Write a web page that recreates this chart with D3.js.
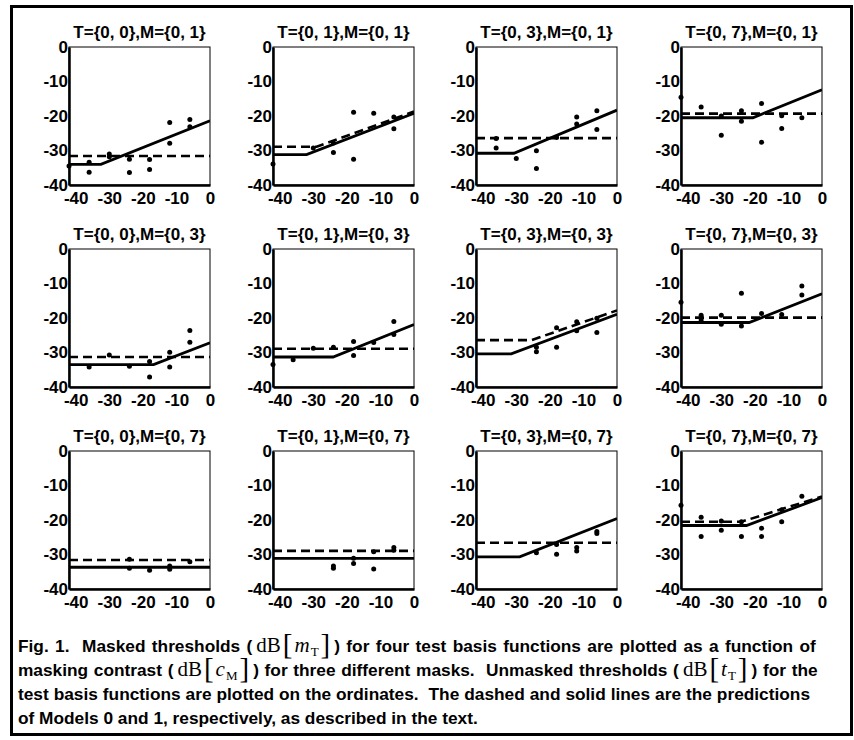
<!DOCTYPE html>
<html><head><meta charset="utf-8">
<script src="https://cdn.jsdelivr.net/npm/d3@7"></script>
<style>
body{margin:0;background:#fff}
text{font-family:"Liberation Sans",Arial,sans-serif;fill:#000}
.title{font-size:17px;font-weight:bold}
.tick text{font-size:17px;font-weight:bold;font-family:"Liberation Sans",Arial,sans-serif}
.cap{font-size:17.3px;font-weight:bold;white-space:pre}
.serif{font-family:"Liberation Serif","DejaVu Serif",serif;font-weight:normal}
</style>
</head><body><svg id="c" width="854" height="740"></svg>
<script>
const titles = [
  "T={0, 0},M={0, 1}","T={0, 1},M={0, 1}","T={0, 3},M={0, 1}","T={0, 7},M={0, 1}",
  "T={0, 0},M={0, 3}","T={0, 1},M={0, 3}","T={0, 3},M={0, 3}","T={0, 7},M={0, 3}",
  "T={0, 0},M={0, 7}","T={0, 1},M={0, 7}","T={0, 3},M={0, 7}","T={0, 7},M={0, 7}"
];
const xTicks = [-40,-30,-20,-10,0];
const yTicks = [0,-10,-20,-30,-40];
const xDomain = [-42,0];
const yDomain = [-40,0];

// observed thresholds: [masking contrast dB, masked threshold dB]
const obsT00M01 = [[-42,-34.5],[-36,-33.4],[-36,-36.3],[-30,-31.0],[-30,-31.8],[-24,-32.5],[-24,-36.4],[-18,-32.6],[-18,-35.5],[-12,-21.9],[-12,-27.9],[-6,-21.0],[-6,-23.1]];
const obsT01M01 = [[-42,-33.9],[-30,-29.3],[-24,-30.6],[-24,-27.8],[-18,-18.9],[-18,-32.5],[-12,-19.2],[-6,-20.3],[-6,-23.7]];
const obsT03M01 = [[-36,-26.5],[-36,-29.3],[-30,-32.3],[-24,-30.1],[-24,-35.2],[-18,-26.2],[-12,-20.3],[-12,-22.3],[-6,-18.5],[-6,-23.9]];
const obsT07M01 = [[-42,-14.6],[-36,-17.4],[-30,-25.6],[-30,-20.0],[-24,-18.5],[-24,-21.5],[-18,-16.4],[-18,-27.6],[-12,-19.9],[-12,-23.6],[-6,-20.5]];
const obsT00M03 = [[-36,-34.2],[-30,-30.7],[-24,-34.0],[-18,-32.6],[-18,-37.1],[-12,-29.9],[-12,-34.2],[-6,-23.6],[-6,-27.0]];
const obsT01M03 = [[-42,-33.5],[-36,-32.1],[-30,-28.8],[-24,-28.5],[-18,-26.8],[-18,-30.9],[-12,-27.1],[-6,-21.0],[-6,-24.8]];
const obsT03M03 = [[-24,-28.5],[-24,-29.8],[-18,-28.5],[-18,-22.8],[-12,-21.1],[-12,-23.7],[-6,-20.1],[-6,-24.2]];
const obsT07M03 = [[-42,-15.4],[-36,-19.2],[-36,-20.6],[-30,-19.2],[-30,-21.8],[-24,-12.8],[-24,-22.3],[-18,-18.7],[-12,-19.0],[-6,-10.7],[-6,-13.3]];
const obsT00M07 = [[-24,-34.0],[-24,-31.4],[-18,-34.6],[-12,-33.3],[-12,-34.3],[-6,-32.1]];
const obsT01M07 = [[-24,-33.3],[-24,-34.0],[-18,-31.1],[-18,-32.6],[-12,-34.2],[-12,-29.2],[-6,-28.0],[-6,-28.8]];
const obsT03M07 = [[-24,-29.5],[-18,-27.1],[-18,-29.9],[-12,-28.0],[-12,-29.0],[-6,-23.3],[-6,-23.9]];
const obsT07M07 = [[-42,-15.7],[-36,-19.2],[-36,-24.8],[-30,-23.0],[-30,-20.3],[-24,-20.5],[-24,-24.8],[-18,-22.4],[-18,-24.8],[-12,-17.0],[-12,-20.5],[-6,-13.1]];
const observed = [obsT00M01,obsT01M01,obsT03M01,obsT07M01,obsT00M03,obsT01M03,obsT03M03,obsT07M03,obsT00M07,obsT01M07,obsT03M07,obsT07M07];

// Model 0 predictions (dashed)
const model0 = [
  [[-42,-31.6],[0,-31.6]],
  [[-42,-28.9],[-29,-28.9],[0,-18.7]],
  [[-42,-26.4],[0,-26.4]],
  [[-42,-19.3],[0,-19.3]],
  [[-42,-31.3],[0,-31.3]],
  [[-42,-28.9],[0,-28.9]],
  [[-42,-26.4],[-25.4,-26.4],[0,-17.8]],
  [[-42,-19.9],[0,-19.9]],
  [[-42,-31.6],[0,-31.6]],
  [[-42,-28.95],[0,-28.95]],
  [[-42,-26.6],[0,-26.6]],
  [[-42,-20.5],[-24,-20.5],[0,-13.2]]
];
// Model 1 predictions (solid)
const model1 = [
  [[-42,-34.0],[-32.5,-34.0],[0,-21.4]],
  [[-42,-31.2],[-32,-31.2],[0,-19.2]],
  [[-42,-30.8],[-30.7,-30.8],[0,-18.3]],
  [[-42,-20.5],[-20.6,-20.5],[0,-12.4]],
  [[-42,-33.5],[-16.8,-33.5],[0,-27.2]],
  [[-42,-31.3],[-24.1,-31.3],[0,-21.9]],
  [[-42,-30.4],[-31.5,-30.4],[0,-18.9]],
  [[-42,-21.3],[-21.7,-21.3],[0,-13.0]],
  [[-42,-33.7],[0,-33.7]],
  [[-42,-31.1],[0,-31.1]],
  [[-42,-30.7],[-29,-30.7],[0,-19.6]],
  [[-42,-21.6],[-22.5,-21.6],[0,-13.5]]
];

const captionLines = [
  [{t:"Fig. 1.  Masked thresholds ("},{m:"m",s:"T"},{t:") for four test basis functions are plotted as a function of"}],
  [{t:"masking contrast ("},{m:"c",s:"M"},{t:") for three different masks.  Unmasked thresholds ("},{m:"t",s:"T"},{t:") for the"}],
  [{t:"test basis functions are plotted on the ordinates.  The dashed and solid lines are the predictions"}],
  [{t:"of Models 0 and 1, respectively, as described in the text."}]
];
const captionRight = [816,818,810,null];

const svg = d3.select("#c");
svg.append("rect").attr("width",854).attr("height",740).attr("fill","#fff");
svg.append("rect").attr("x",11.5).attr("y",6.5).attr("width",840).attr("height",728)
  .attr("fill","none").attr("stroke","#000").attr("stroke-width",3);

const colLeft=[69,273,476,681], rowTop=[47,249,451], pw=141, ph=138;
const x = d3.scaleLinear().domain(xDomain).range([0,pw]);
const y = d3.scaleLinear().domain(yDomain).range([ph,0]);
const line = d3.line().x(d=>x(d[0])).y(d=>y(d[1]));
const fmt = d => String(d);

svg.append("defs").append("clipPath").attr("id","clip")
  .append("rect").attr("width",pw).attr("height",ph);

titles.forEach((t,i)=>{
  const r=Math.floor(i/4), c=i%4;
  const g=svg.append("g").attr("transform",`translate(${colLeft[c]},${rowTop[r]})`);
  g.append("text").attr("class","title").attr("x",pw/2).attr("y",-9)
    .attr("text-anchor","middle").text(t);
  const gl=g.append("g").attr("clip-path","url(#clip)");
  gl.append("path").datum(model0[i]).attr("d",line).attr("fill","none")
    .attr("stroke","#000").attr("stroke-width",2.6).attr("stroke-dasharray","9,5");
  gl.append("path").datum(model1[i]).attr("d",line).attr("fill","none")
    .attr("stroke","#000").attr("stroke-width",2.8);
  g.append("rect").attr("width",pw).attr("height",ph).attr("fill","none")
    .attr("stroke","#000").attr("stroke-width",1);
  const ya=g.append("g").call(d3.axisLeft(y).tickValues(yTicks).tickSize(0).tickPadding(1).tickFormat(fmt));
  ya.select(".domain").attr("stroke-width",2.5);
  const xa=g.append("g").attr("transform",`translate(0,${ph})`)
    .call(d3.axisBottom(x).tickValues(xTicks).tickSize(0).tickPadding(7).tickFormat(fmt));
  xa.select(".domain").attr("stroke-width",2.5);
  g.selectAll(".tick text").attr("fill","#000");
  g.selectAll("circle").data(observed[i]).join("circle")
    .attr("cx",d=>x(d[0])).attr("cy",d=>y(d[1])).attr("r",2.5).attr("fill","#000");
});

// caption
const capLeft=18;
captionLines.forEach((segs,li)=>{
  const tx=svg.append("text").attr("class","cap").attr("x",capLeft).attr("y",652+li*24);
  let pendDx=0, pendDy=0;
  segs.forEach(s=>{
    if(s.t!==undefined){
      tx.append("tspan").attr("dx",pendDx).attr("dy",pendDy).text(s.t);
      pendDx=0; pendDy=0;
    } else {
      tx.append("tspan").attr("class","serif").style("font-size","21px").attr("dx",4).text("dB");
      tx.append("tspan").attr("class","serif").style("font-size","29px").attr("dx",2).attr("dy",2).text("[");
      tx.append("tspan").attr("class","serif").style("font-size","21px").style("font-style","italic").attr("dx",2).attr("dy",-2).text(s.m);
      tx.append("tspan").attr("class","serif").style("font-size","13px").attr("dx",1).attr("dy",4).text(s.s);
      tx.append("tspan").attr("class","serif").style("font-size","29px").attr("dx",2).attr("dy",-2).text("]");
      pendDx=4; pendDy=-2;
    }
  });
  if(captionRight[li]){
    const bb=tx.node().getBBox();
    const natural=bb.x+bb.width;
    const fullText=segs.map(s=>s.t!==undefined?s.t:"").join("");
    const nSpaces=(fullText.match(/ /g)||[]).length;
    const extra=captionRight[li]-natural;
    if(nSpaces>0 && extra>0) tx.style("word-spacing",(extra/nSpaces)+"px");
  }
});
</script>
</body></html>
